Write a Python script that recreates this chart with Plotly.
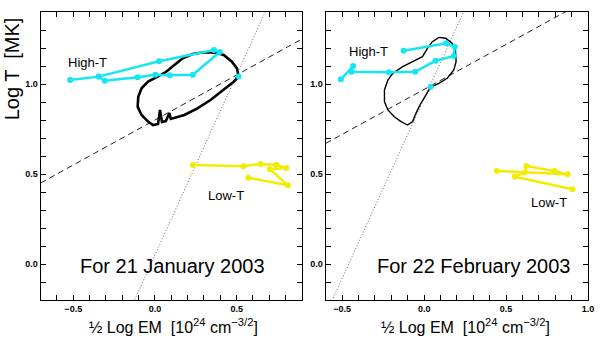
import numpy as np
import plotly.graph_objects as go

# ---------------- data ----------------
# Panel 1: 21 January 2003
hi1_x = [-0.519, -0.344, 0.025, 0.361, 0.397, 0.232, 0.091, 0.002, -0.106, -0.307, -0.344, None, 0.512]
hi1_y = [1.022, 1.041, 1.126, 1.189, 1.178, 1.052, 1.048, 1.052, 1.037, 1.018, 1.041, None, 1.041]
lo1_x = [0.232, 0.542, 0.647, 0.743, 0.804, 0.703, 0.814, 0.572]
lo1_y = [0.550, 0.543, 0.556, 0.550, 0.533, 0.526, 0.437, 0.479]
loop1_x = [0.512, 0.502, 0.471, 0.421, 0.371, 0.301, 0.230, 0.170, 0.119, 0.069, 0.008, -0.042,
           -0.082, -0.102, -0.106, -0.082, -0.042, -0.012, 0.019, 0.031, 0.043, 0.067, 0.088,
           0.097, 0.180, 0.260, 0.340, 0.421, 0.482, 0.512]
loop1_y = [1.041, 1.087, 1.124, 1.161, 1.174, 1.176, 1.167, 1.143, 1.106, 1.068, 1.037, 1.013,
           0.976, 0.929, 0.874, 0.828, 0.791, 0.772, 0.778, 0.856, 0.789, 0.794, 0.839,
           0.806, 0.828, 0.865, 0.911, 0.967, 1.013, 1.041]

# Panel 2: 22 February 2003
hi2_x = [-0.508, -0.433, -0.443, -0.215, -0.055, 0.070, 0.181, 0.187, 0.135, -0.125, None, 0.040]
hi2_y = [1.026, 1.100, 1.068, 1.065, 1.068, 1.129, 1.156, 1.207, 1.226, 1.185, None, 0.985]
lo2_x = [0.443, 0.875, 0.795, 0.624, 0.614, 0.553, 0.905]
lo2_y = [0.517, 0.498, 0.517, 0.544, 0.509, 0.485, 0.415]
loop2_x = [0.040, 0.090, 0.141, 0.181, 0.195, 0.191, 0.171, 0.131, 0.090, 0.050, 0.020, -0.010,
           -0.070, -0.131, -0.191, -0.221, -0.242, -0.242, -0.221, -0.182, -0.141, -0.101,
           -0.070, -0.050, -0.020, 0.010, 0.040]
loop2_y = [0.982, 1.004, 1.032, 1.078, 1.124, 1.189, 1.226, 1.254, 1.259, 1.235, 1.198, 1.152,
           1.124, 1.096, 1.059, 1.022, 0.967, 0.902, 0.856, 0.818, 0.791, 0.772,
           0.791, 0.837, 0.893, 0.939, 0.982]

# reference lines: slope / intercept
dash_slope = 0.5
dot_slope = 2.0
dash_b = [0.80, 0.97]
dot_b = [0.05, 0.92]

x_ranges = [[-0.7, 0.9], [-0.6, 1.0]]
y_range = [-0.2, 1.4]
x_labels = ["\u22120.5", "0.0", "0.5", "1.0"]
y_labels = ["0.0", "0.5", "1.0"]
titles = ["For 21 January 2003", "For 22 February 2003"]

CYAN = "#14E6F2"
YELLOW = "#F4EC00"
FONT = "Liberation Sans, Arial, sans-serif"

fig = go.Figure()

panels = [
    (hi1_x, hi1_y, lo1_x, lo1_y, loop1_x, loop1_y, 2.6),
    (hi2_x, hi2_y, lo2_x, lo2_y, loop2_x, loop2_y, 1.4),
]

for i, (hx, hy, lx, ly, px, py, lw) in enumerate(panels):
    xa = "x" if i == 0 else "x2"
    ya = "y" if i == 0 else "y2"
    xr = np.array(x_ranges[i])
    # dashed line
    fig.add_trace(go.Scatter(x=xr, y=dash_slope * xr + dash_b[i], mode="lines",
                             line=dict(color="#222", width=1, dash="6px,4px"),
                             xaxis=xa, yaxis=ya, showlegend=False, hoverinfo="skip"))
    # dotted line
    fig.add_trace(go.Scatter(x=xr, y=dot_slope * xr + dot_b[i], mode="lines",
                             line=dict(color="#666", width=1, dash="1px,2px"),
                             xaxis=xa, yaxis=ya, showlegend=False, hoverinfo="skip"))
    # black loop
    fig.add_trace(go.Scatter(x=px, y=py, mode="lines",
                             line=dict(color="black", width=lw),
                             xaxis=xa, yaxis=ya, showlegend=False))
    # High-T
    fig.add_trace(go.Scatter(x=hx, y=hy, mode="lines+markers",
                             line=dict(color=CYAN, width=2.5), marker=dict(color=CYAN, size=6),
                             connectgaps=False, xaxis=xa, yaxis=ya, showlegend=False))
    # Low-T
    fig.add_trace(go.Scatter(x=lx, y=ly, mode="lines+markers",
                             line=dict(color=YELLOW, width=2.5), marker=dict(color=YELLOW, size=6),
                             xaxis=xa, yaxis=ya, showlegend=False))

# axes
x_domains = [[41 / 605, 305 / 605], [329 / 605, 594 / 605]]
y_domain = [1 - 300 / 337, 1 - 12 / 337]

def tick_setup(rng, labels):
    vals = np.round(np.arange(rng[0], rng[1] + 1e-9, 0.1), 2)
    text = []
    for v in vals:
        lab = ""
        for l in labels:
            if abs(float(l.replace("\u2212", "-")) - v) < 1e-6:
                lab = l
        text.append(lab)
    return list(vals), text

common = dict(showline=True, linecolor="black", linewidth=1.3, mirror="ticks",
              ticks="inside", ticklen=5, tickwidth=1, tickcolor="black",
              showgrid=False, zeroline=False,
              tickfont=dict(family=FONT, size=9, color="black", weight="bold"))

for i in range(2):
    tv, tt = tick_setup(x_ranges[i], x_labels)
    key = "xaxis" if i == 0 else "xaxis2"
    fig.layout[key] = dict(domain=x_domains[i], range=x_ranges[i], tickvals=tv, ticktext=tt,
                           anchor="y" if i == 0 else "y2", **common)
    tvy, tty = tick_setup(y_range, y_labels)
    keyy = "yaxis" if i == 0 else "yaxis2"
    fig.layout[keyy] = dict(domain=y_domain, range=y_range, tickvals=tvy, ticktext=tty,
                            anchor="x" if i == 0 else "x2", **common)

annotations = []
# panel labels
label_pos = [
    ("High-T", -0.41, 1.122, "x", "y"), ("Low-T", 0.435, 0.378, "x", "y"),
    ("High-T", -0.34, 1.183, "x2", "y2"), ("Low-T", 0.759, 0.344, "x2", "y2"),
]
for txt, x, y, xr_, yr_ in label_pos:
    annotations.append(dict(text=txt, x=x, y=y, xref=xr_, yref=yr_, showarrow=False,
                            xanchor="center", yanchor="middle",
                            font=dict(family=FONT, size=13, color="black")))
annotations.append(dict(text=titles[0], x=0.109, y=-0.011, xref="x", yref="y", showarrow=False,
                        xanchor="center", yanchor="middle",
                        font=dict(family=FONT, size=20, color="black")))
annotations.append(dict(text=titles[1], x=0.303, y=-0.011, xref="x2", yref="y2", showarrow=False,
                        xanchor="center", yanchor="middle",
                        font=dict(family=FONT, size=20, color="black")))
# axis titles
xt = "\u00bd Log EM  [10<sup>24</sup> cm<sup>\u22123/2</sup>]"
for cx in [175, 470]:
    annotations.append(dict(text=xt, x=cx / 605, y=1 - 326 / 337, xref="paper", yref="paper",
                            xanchor="center", yanchor="middle",
                            showarrow=False, font=dict(family=FONT, size=16, color="black")))
annotations.append(dict(text="Log T  [MK]", x=13 / 605, y=1 - 68.5 / 337, xref="paper", yref="paper",
                        xanchor="center", yanchor="middle",
                        textangle=-90, showarrow=False,
                        font=dict(family=FONT, size=20, color="black")))

fig.update_layout(width=605, height=337, margin=dict(l=0, r=0, t=0, b=0),
                  paper_bgcolor="white", plot_bgcolor="white", annotations=annotations,
                  showlegend=False)

fig.write_html("out.html")
